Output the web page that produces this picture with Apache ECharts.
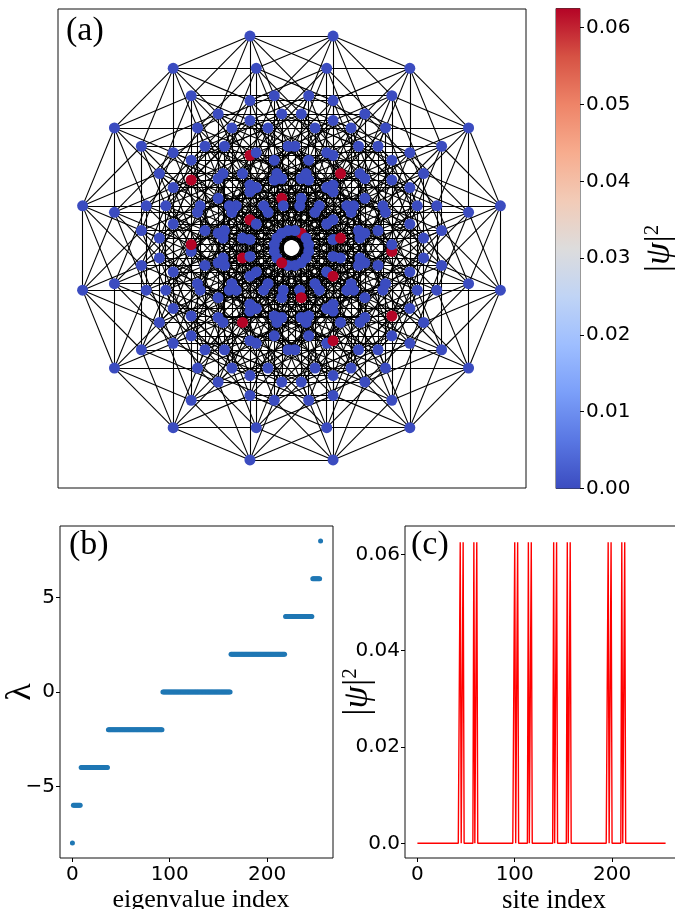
<!DOCTYPE html>
<html><head><meta charset="utf-8">
<style>html,body{margin:0;padding:0;background:#fff;overflow:hidden}#c{width:675px;height:909px}</style>
<script src="https://cdn.jsdelivr.net/npm/echarts@6/dist/echarts.min.js"></script>
</head><body><div id="c"></div>
<script>
const cubeBits = 8;
const directionAngles = [0, 22.5, 45, 67.5, 90, 112.5, 135, 157.5];
const localizedBehind = [186,206,56,227,151,179];
const localizedFront = [158,234,104,28,76,199,49,21,97,69];
const peakSites = [44,47,58,61,100,103,114,117,140,143,154,157,196,199,210,213];
const peakValue = 0.0625;
const eigenLevels = [-8,-6,-4,-2,0,2,4,6,8];
const eigenCounts = [1,8,28,56,70,56,28,8,1];
const cbTicks = [0,0.01,0.02,0.03,0.04,0.05,0.06];
const coolwarm = ['#3b4cc0','#5977e3','#7b9ff9','#9ebeff','#c0d4f5','#dddcdc','#f2cbb7','#f7ac8e','#ee8468','#d65244','#b40426'];

const nodeX=[],nodeY=[];
for(let i=0;i<256;i++){let x=0,y=0;for(let k=0;k<cubeBits;k++){const s=((i>>k)&1)?0.5:-0.5;x+=s*Math.cos(directionAngles[k]*Math.PI/180);y+=s*Math.sin(directionAngles[k]*Math.PI/180);}nodeX.push(x);nodeY.push(y);}
// drawing order: behind reds, blue nodes, front reds
const blues=[];for(let i=0;i<256;i++)if(!localizedBehind.includes(i)&&!localizedFront.includes(i))blues.push(i);
const order=localizedBehind.concat(blues,localizedFront);
const slot=[];order.forEach((n,s)=>{slot[n]=s;});
const nodes=order.map(n=>({value:[nodeX[n],nodeY[n]],itemStyle:{color:blues.includes(n)?coolwarm[0]:coolwarm[10]}}));
const links=[];for(let i=0;i<256;i++)for(let k=0;k<cubeBits;k++){const j=i^(1<<k);if(j>i)links.push({source:slot[i],target:slot[j]});}
const eigen=[];let idx=0;eigenLevels.forEach((l,n)=>{for(let c=0;c<eigenCounts[n];c++)eigen.push([idx++,l]);});
const psiLine=[];for(let i=0;i<256;i++)psiLine.push([i,peakSites.includes(i)?peakValue:0]);
const sf='"Liberation Serif",serif', ss='"DejaVu Sans",sans-serif';
const tickLab={fontFamily:ss,fontSize:20,color:'#000'};
const axLine={show:false,onZero:false};
const chart=echarts.init(document.getElementById('c'),null,{renderer:'canvas'});
const border={show:true,borderColor:'#111',borderWidth:1,backgroundColor:'#fff',outerBoundsMode:'none'};
const tick=(vals,len)=>({show:true,length:len||4,lineStyle:{color:'#000',width:1},customValues:vals,alignWithLabel:true});
const psiRich={p:{fontFamily:sf,fontStyle:'italic',fontSize:36},s:{fontFamily:sf,fontSize:21,verticalAlign:'top',padding:[0,0,10,0]}};
chart.setOption({
 animation:false,
 grid:[
  Object.assign({left:58,top:9,width:468,height:479},border),
  {left:556,top:8.5,width:24,height:480,show:true,borderColor:'#333',borderWidth:1,outerBoundsMode:'none'},
  Object.assign({left:60,top:526,width:273,height:332},border),
  Object.assign({left:405,top:526,width:273,height:332},border)
 ],
 xAxis:[
  {gridIndex:0,type:'value',min:-(291.5-58)/83.1,max:(526-291.5)/83.1,show:false},
  {gridIndex:1,type:'category',data:['cb'],show:false},
  {gridIndex:2,type:'value',min:-12.75,max:267.75,splitLine:{show:false},axisLine:axLine,
   axisTick:tick([0,100,200]),axisLabel:Object.assign({customValues:[0,100,200],margin:7},tickLab),
   name:'eigenvalue index',nameLocation:'middle',nameGap:29,nameTextStyle:{fontFamily:sf,fontSize:26,color:'#000',padding:[0,0,0,9]}},
  {gridIndex:3,type:'value',min:-12.75,max:267.75,splitLine:{show:false},axisLine:axLine,
   axisTick:tick([0,100,200]),axisLabel:Object.assign({customValues:[0,100,200],margin:7},tickLab),
   name:'site index',nameLocation:'middle',nameGap:29,nameTextStyle:{fontFamily:sf,fontSize:27,color:'#000',padding:[0,0,0,25]}}
 ],
 yAxis:[
  {gridIndex:0,type:'value',min:-(488-248)/84.3,max:(248-9)/84.3,show:false},
  {gridIndex:1,type:'value',position:'right',min:0,max:0.0625,splitLine:{show:false},axisLine:axLine,
   axisTick:tick(cbTicks),axisLabel:Object.assign({customValues:cbTicks,margin:6,formatter:v=>v.toFixed(2)},tickLab),
   name:'|{p|ψ}|{s|2}',nameLocation:'middle',nameGap:62,nameRotate:90,nameMoveOverlap:false,
   nameTextStyle:{fontFamily:sf,fontSize:36,color:'#000',rich:psiRich}},
  {gridIndex:2,type:'value',min:-8.8,max:8.8,splitLine:{show:false},axisLine:axLine,
   axisTick:tick([-5,0,5]),axisLabel:Object.assign({customValues:[-5,0,5],margin:5,formatter:v=>v<0?'−'+(-v):''+v},tickLab),
   name:'λ',nameLocation:'middle',nameGap:21,nameRotate:90,nameMoveOverlap:false,nameTextStyle:{fontFamily:sf,fontSize:36,color:'#000'}},
  {gridIndex:3,type:'value',min:-0.00305,max:0.0659,splitLine:{show:false},axisLine:axLine,
   axisTick:tick([0,0.02,0.04,0.06]),axisLabel:Object.assign({customValues:[0,0.02,0.04,0.06],margin:5,formatter:v=>v===0?'0.0':v.toFixed(2)},tickLab),
   name:'|{p|ψ}|{s|2}',nameLocation:'middle',nameGap:29,nameRotate:90,nameMoveOverlap:false,
   nameTextStyle:{fontFamily:sf,fontSize:36,color:'#000',rich:psiRich}},
  {gridIndex:3,type:'value',min:-0.00305,max:0.0659,splitLine:{show:false},axisLine:axLine,
   axisTick:tick([0.01,0.03,0.05],2),axisLabel:{show:false}}
 ],
 series:[
  {type:'graph',coordinateSystem:'cartesian2d',xAxisIndex:0,yAxisIndex:0,layout:'none',silent:true,symbol:'circle',symbolSize:11,data:nodes,links:links,lineStyle:{color:'#000',width:1.1,opacity:1,curveness:0},label:{show:false},edgeSymbol:['none','none']},
  {type:'bar',xAxisIndex:1,yAxisIndex:1,data:[peakValue],barWidth:'100%',silent:true,itemStyle:{color:{type:'linear',x:0,y:1,x2:0,y2:0,colorStops:coolwarm.map((c,i)=>({offset:i/10,color:c}))}}},
  {type:'scatter',xAxisIndex:2,yAxisIndex:2,data:eigen,symbolSize:5,silent:true,itemStyle:{color:'#1f77b4',opacity:1}},
  {type:'line',xAxisIndex:3,yAxisIndex:3,data:psiLine,showSymbol:false,symbol:'none',silent:true,lineStyle:{color:'#ff0000',width:1.4}}
 ],
 graphic:[
  {type:'text',left:66,top:14,style:{text:'(a)',font:'34px '+sf,fill:'#000'}},
  {type:'text',left:69,top:528,style:{text:'(b)',font:'34px '+sf,fill:'#000'}},
  {type:'text',left:411,top:528,style:{text:'(c)',font:'34px '+sf,fill:'#000'}}
 ]
});
</script></body></html>
